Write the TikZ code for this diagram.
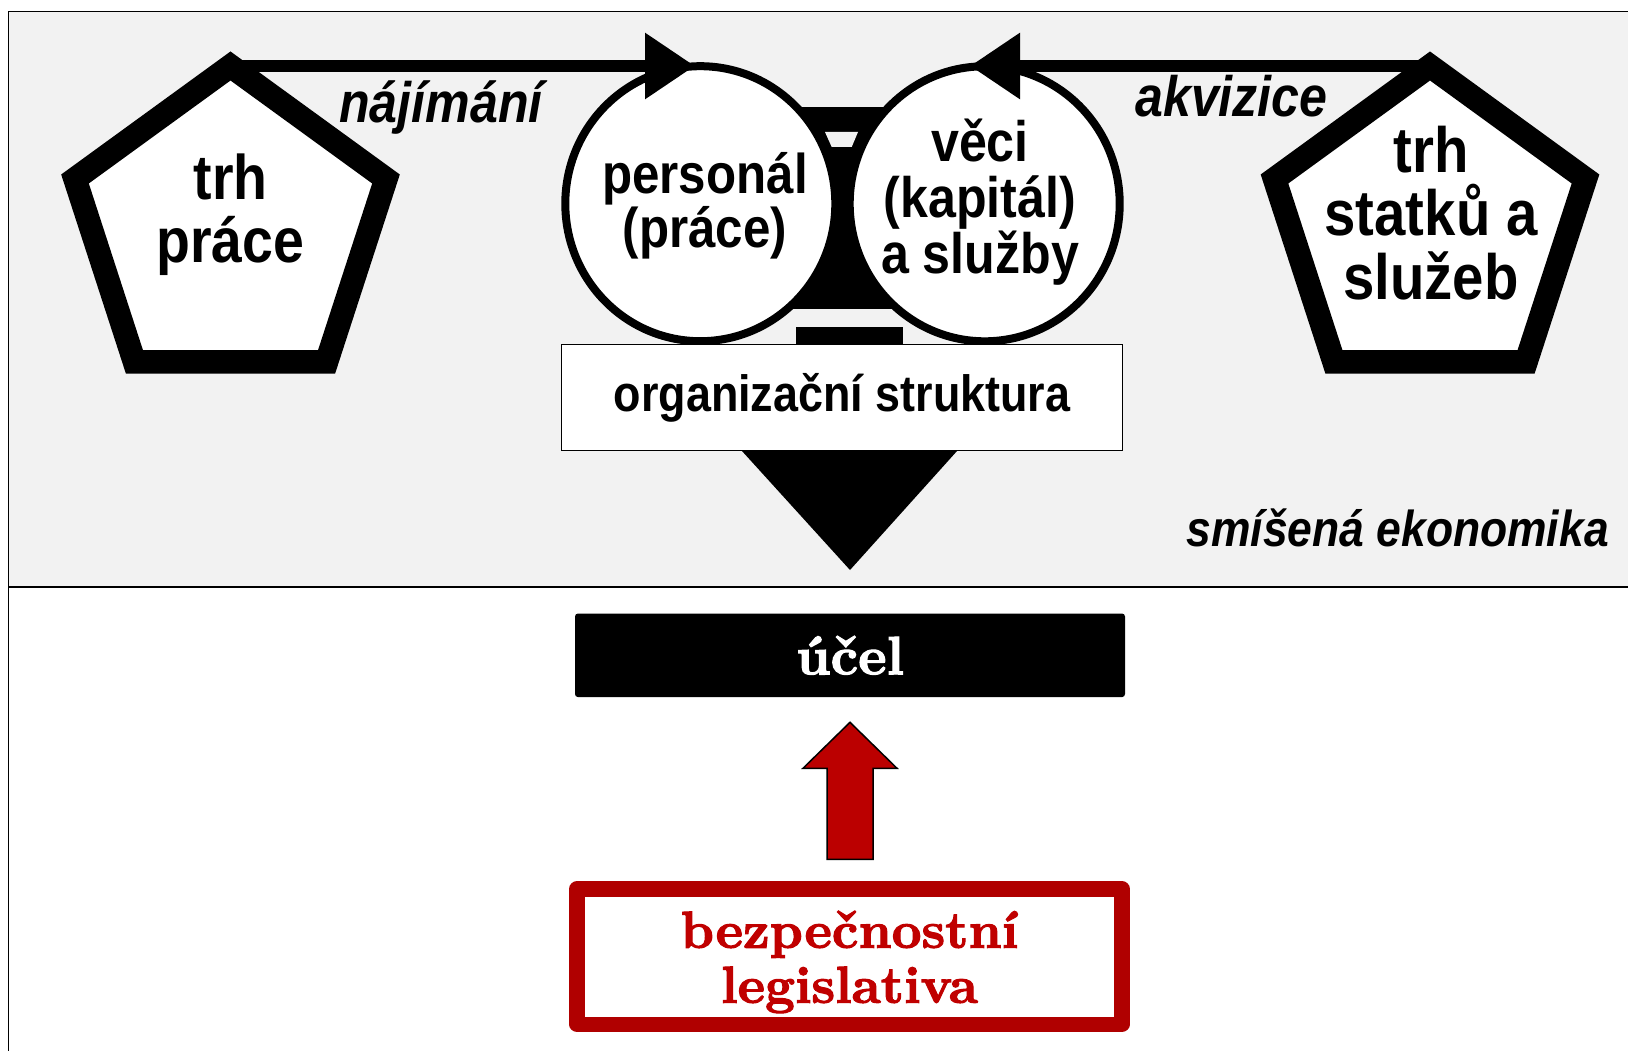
\documentclass[tikz,border=0pt]{standalone}
\usepackage{fontspec}
\newfontfamily\sansb{Liberation Sans}[FakeStretch=0.88]
\newfontfamily\heavyserif{lmroman10-bold}[Extension=.otf, FakeBold=2]
\usetikzlibrary{shapes.geometric,arrows.meta}
\definecolor{bggray}{HTML}{F2F2F2}
\definecolor{arrowred}{HTML}{BB0000}
\definecolor{boxred}{HTML}{B00000}
\definecolor{textred}{HTML}{C00000}
\begin{document}
\begin{tikzpicture}[x=1pt,y=-1pt,
  pent/.style={regular polygon, regular polygon sides=5, draw=black, fill=white,
    line width=23.5pt, minimum size=327pt, inner sep=0pt, line join=miter},
  ring/.style={ellipse, draw=black, fill=white, line width=8pt,
    minimum width=270pt, minimum height=275pt, inner sep=0pt},
  bigsans/.style={font={\sansb\bfseries\fontsize{63pt}{63pt}\selectfont}, align=center, inner sep=0pt},
  midsans/.style={font={\sansb\bfseries\fontsize{56pt}{54pt}\selectfont}, align=center, inner sep=0pt},
  itsans/.style={font={\sansb\bfseries\itshape\fontsize{57pt}{60pt}\selectfont}, inner sep=0pt},
  flow/.style={line width=12.5pt, -{Triangle[length=50pt,width=63pt]}},
  frameline/.style={line width=1.3pt, draw=black},
]
\useasboundingbox (0,0) rectangle (1628,1051);

% background and frame
\fill[bggray] (8.5,11.5) rectangle (1628,587);
\draw[frameline] (1628,11.5) -- (8.5,11.5) -- (8.5,1051);
\draw[frameline] (8.5,587) -- (1628,587);

% black centre piece behind the circles
\fill[black] (790,107) rectangle (895,309);
\fill[bggray] (825,132) -- (858,132) -- (851.7,147) -- (831.7,147) -- cycle;

% circles
\node[ring] (c1) at (700.3,203.7) {};
\node[ring] (c2) at (984.7,203.8) {};
\node[midsans] (t1) at (705,206) {personál\\(práce)};
\node[midsans, font={\sansb\bfseries\fontsize{57pt}{56pt}\selectfont}] (t2) at (980,202.5) {věci\\(kapitál)\\a služby};

% pentagons
\node[pent] (lp) at (230.5,229.5) {};
\node[pent] (rp) at (1430,229.5) {};
\node[bigsans] (lpt) at (230.5,214.5) {trh\\práce};
\node[bigsans, font={\sansb\bfseries\fontsize{64pt}{63.5pt}\selectfont}] (rpt) at (1431,213) {trh\\statků a\\služeb};

% connectors on top
\coordinate (tip1) at (695,66);
\coordinate (tip2) at (970,66);
\draw[flow] (lp.center |- tip1) -- (tip1);
\draw[flow] (rp.center |- tip2) -- (tip2);
\node[itsans, anchor=base] (hire) at (441,122.5) {nájímání};
\node[itsans, anchor=base] (acq) at (1231.5,117) {akvizice};

% organisation structure
\fill[black] (796,326.7) rectangle (903,344);
\node[draw=black, line width=1pt, fill=white, minimum width=560.6pt, minimum height=106pt,
  inner sep=0pt, font={\sansb\bfseries\fontsize{51pt}{51pt}\selectfont}] (org) at (842,397.5) {organizační struktura};
\fill[black] (741.7,450.7) -- (957.3,450.7) -- (850,570) -- cycle;

\node[font={\sansb\bfseries\itshape\fontsize{50.5pt}{50.5pt}\selectfont}, anchor=base east, inner sep=0pt] (mix) at (1609,546) {smíšená ekonomika};

% purpose
\node[fill=black, rounded corners=3pt, minimum width=550pt, minimum height=83.6pt, inner sep=0pt,
  text=white, font={\heavyserif\fontsize{54pt}{54pt}\selectfont}] (ucel) at (850,655.3) {účel};

% legislation
\node[draw=boxred, line width=15.5pt, line join=round, fill=white, minimum width=544.7pt, minimum height=135.5pt,
  inner sep=0pt] (leg) at (849.5,956.5) {};
\node[text=textred, align=center, inner sep=0pt, font={\heavyserif\fontsize{52pt}{55pt}\selectfont}] (legt) at (849.5,962) {bezpečnostní\\legislativa};

% red block arrow from legislation to purpose
\coordinate (atip) at ([yshift=-25pt]ucel.south);
\draw[fill=arrowred, draw=black, line width=1.5pt, line join=miter]
  (atip) -- ++(47,46) -- ++(-24,0) -- ++(0,91) -- ++(-46,0) -- ++(0,-91) -- ++(-24,0) -- cycle;
\end{tikzpicture}
\end{document}
